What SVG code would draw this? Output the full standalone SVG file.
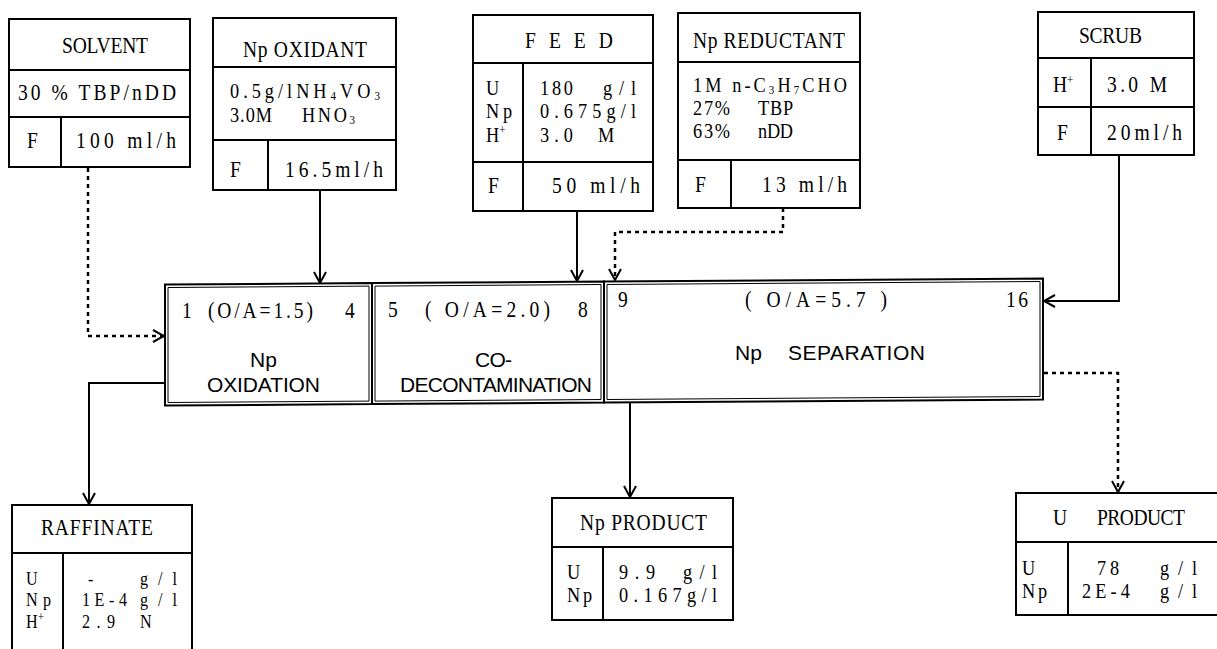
<svg xmlns="http://www.w3.org/2000/svg" width="1217" height="649" viewBox="0 0 1217 649">
<style>
.b{fill:none;stroke:#000;stroke-width:2}
.bi{fill:none;stroke:#000;stroke-width:1}
.t{font-family:"Liberation Serif",serif;font-size:23px;fill:#000}
.r{font-family:"Liberation Serif",serif;font-size:21.5px;fill:#000}
.q{font-family:"Liberation Serif",serif;font-size:19px;fill:#000}
.s{font-family:"Liberation Sans",sans-serif;font-size:21px;fill:#000}
.c{fill:none;stroke:#000;stroke-width:2}
.d{stroke-dasharray:4 4;stroke-width:2.5}
.sub{font-size:13px}
.sup{font-size:13px}
</style>
<defs>
<marker id="ah" viewBox="0 0 13 14" refX="12" refY="7" markerWidth="13" markerHeight="14" markerUnits="userSpaceOnUse" orient="auto">
<path d="M1,1 L12,7 L1,13" fill="none" stroke="#000" stroke-width="2" stroke-dasharray="none"/>
</marker>
</defs>
<rect width="1217" height="649" fill="#fff"/>

<g id="solvent">
<rect class="b" x="9" y="19" width="181" height="148"/>
<path class="b" d="M9,70 H190 M9,117 H190 M61,117 V167"/>
<text class="t" transform="scale(.85 1)" x="72.9" y="53" textLength="101.2">SOLVENT</text>
<text class="t" transform="scale(.85 1)" x="21.2" y="100" textLength="185.9">30 % TBP/nDD</text>
<text class="t" transform="scale(.85 1)" x="31.8" y="148">F</text>
<text class="t" transform="scale(.85 1)" x="89.4" y="148" textLength="117.6">100 ml/h</text>
</g>

<g id="np-oxidant">
<rect class="b" x="213" y="18" width="183" height="172"/>
<path class="b" d="M213,67 H396 M213,140 H396 M268,140 V190"/>
<text class="t" transform="scale(.85 1)" x="285.9" y="57" textLength="145.9">Np OXIDANT</text>
<text class="r" transform="scale(.85 1)" x="270.6" y="98" textLength="176.5">0.5g/lNH<tspan class="sub" dy="2">4</tspan><tspan dy="-2">VO</tspan><tspan class="sub" dy="2">3</tspan></text>
<text class="r" transform="scale(.85 1)" x="270.6" y="122" textLength="49.4">3.0M</text>
<text class="r" transform="scale(.85 1)" x="355.3" y="122" textLength="62.4">HNO<tspan class="sub" dy="2">3</tspan></text>
<text class="t" transform="scale(.85 1)" x="270.6" y="177">F</text>
<text class="t" transform="scale(.85 1)" x="335.3" y="177" textLength="115.3">16.5ml/h</text>
</g>

<g id="feed">
<rect class="b" x="473" y="15" width="180" height="196"/>
<path class="b" d="M473,63 H653 M473,162 H653 M523,63 V211"/>
<text class="t" transform="scale(.85 1)" x="617.6" y="48" textLength="103.5">F E E D</text>
<text class="r" transform="scale(.85 1)" x="571.8" y="95">U</text>
<text class="r" transform="scale(.85 1)" x="571.8" y="118" textLength="30.6">Np</text>
<text class="r" transform="scale(.85 1)" x="571.8" y="142">H<tspan class="sup" dy="-8">+</tspan></text>
<text class="r" transform="scale(.85 1)" x="635.3" y="95" textLength="38.8">180</text>
<text class="r" transform="scale(.85 1)" x="709.4" y="95" textLength="38.8">g/l</text>
<text class="r" transform="scale(.85 1)" x="635.3" y="118" textLength="112.9">0.675g/l</text>
<text class="r" transform="scale(.85 1)" x="635.3" y="142" textLength="38.8">3.0</text>
<text class="r" transform="scale(.85 1)" x="703.5" y="142">M</text>
<text class="t" transform="scale(.85 1)" x="574.1" y="193">F</text>
<text class="t" transform="scale(.85 1)" x="649.4" y="193" textLength="103.5">50 ml/h</text>
</g>

<g id="np-reductant">
<rect class="b" x="678" y="13" width="182" height="195"/>
<path class="b" d="M678,62 H860 M678,160 H860 M731,160 V208"/>
<text class="t" transform="scale(.85 1)" x="815.3" y="48" textLength="178.8">Np REDUCTANT</text>
<text class="r" transform="scale(.85 1)" x="815.3" y="92" textLength="181.2">1M n-C<tspan class="sub" dy="2">3</tspan><tspan dy="-2">H</tspan><tspan class="sub" dy="2">7</tspan><tspan dy="-2">CHO</tspan></text>
<text class="r" transform="scale(.85 1)" x="815.3" y="115" textLength="43.5">27%</text>
<text class="r" transform="scale(.85 1)" x="891.8" y="115" textLength="41.2">TBP</text>
<text class="r" transform="scale(.85 1)" x="815.3" y="138" textLength="43.5">63%</text>
<text class="r" transform="scale(.85 1)" x="891.8" y="138" textLength="41.2">nDD</text>
<text class="t" transform="scale(.85 1)" x="817.6" y="192">F</text>
<text class="t" transform="scale(.85 1)" x="896.5" y="192" textLength="100">13 ml/h</text>
</g>

<g id="scrub">
<rect class="b" x="1038" y="12" width="156" height="143"/>
<path class="b" d="M1038,58 H1194 M1038,107 H1194 M1091,58 V155"/>
<text class="t" transform="scale(.85 1)" x="1269.4" y="43" textLength="74.1">SCRUB</text>
<text class="t" transform="scale(.85 1)" x="1238.8" y="92">H<tspan class="sup" dy="-8">+</tspan></text>
<text class="t" transform="scale(.85 1)" x="1302.4" y="92" textLength="70.6">3.0 M</text>
<text class="t" transform="scale(.85 1)" x="1243.5" y="140">F</text>
<text class="t" transform="scale(.85 1)" x="1302.4" y="140" textLength="88.2">20ml/h</text>
</g>

<g id="np-oxidation">
<polygon class="b" points="165,284.5 372,283.1 372,404.1 165,405.5"/>
<polygon class="bi" points="168,287.5 369,286.1 369,401.1 168,402.5"/>
<text class="t" transform="scale(.85 1)" x="214.1" y="318">1</text>
<text class="t" transform="scale(.85 1)" x="244.7" y="318" textLength="123.5">(O/A=1.5)</text>
<text class="t" transform="scale(.85 1)" x="405.9" y="318">4</text>
<text class="s" x="250" y="367">Np</text>
<text class="s" x="207" y="392" textLength="113">OXIDATION</text>
</g>

<g id="co-decontamination">
<polygon class="b" points="372,283.1 604,281.5 604,402.5 372,404.1"/>
<polygon class="bi" points="375,286.1 601,284.5 601,399.5 375,401.1"/>
<text class="t" transform="scale(.85 1)" x="456.5" y="317">5</text>
<text class="t" transform="scale(.85 1)" x="500" y="317" textLength="147.1">( O/A=2.0)</text>
<text class="t" transform="scale(.85 1)" x="680" y="317">8</text>
<text class="s" x="475" y="367" textLength="37">CO-</text>
<text class="s" x="400" y="392" textLength="192">DECONTAMINATION</text>
</g>

<g id="np-separation">
<polygon class="b" points="604,281.5 1043,278.5 1043,399.5 604,402.5"/>
<polygon class="bi" points="607,284.5 1040,281.5 1040,396.5 607,399.5"/>
<text class="t" transform="scale(.85 1)" x="727.1" y="307">9</text>
<text class="t" transform="scale(.85 1)" x="876.5" y="307" textLength="167.1">( O/A=5.7 )</text>
<text class="t" transform="scale(.85 1)" x="1183.5" y="307" textLength="25.9">16</text>
<text class="s" x="735" y="360">Np</text>
<text class="s" x="788" y="360" textLength="137">SEPARATION</text>
</g>

<g id="raffinate">
<rect class="b" x="12" y="505" width="180" height="155"/>
<path class="b" d="M12,553 H192 M63,553 V660"/>
<text class="t" transform="scale(.85 1)" x="48.2" y="535" textLength="131.8">RAFFINATE</text>
<text class="q" transform="scale(.85 1)" x="30.6" y="585">U</text>
<text class="q" transform="scale(.85 1)" x="30.6" y="606" textLength="29.4">Np</text>
<text class="q" transform="scale(.85 1)" x="30.6" y="628">H<tspan class="sup" dy="-7">+</tspan></text>
<text class="q" transform="scale(.85 1)" x="103.5" y="585">-</text>
<text class="q" transform="scale(.85 1)" x="164.7" y="585" textLength="43.5">g/l</text>
<text class="q" transform="scale(.85 1)" x="96.5" y="606" textLength="52.9">1E-4</text>
<text class="q" transform="scale(.85 1)" x="164.7" y="606" textLength="43.5">g/l</text>
<text class="q" transform="scale(.85 1)" x="96.5" y="628" textLength="38.8">2.9</text>
<text class="q" transform="scale(.85 1)" x="164.7" y="628">N</text>
</g>

<g id="np-product">
<rect class="b" x="552" y="498" width="181" height="122"/>
<path class="b" d="M552,547 H733 M603,547 V620"/>
<text class="t" transform="scale(.85 1)" x="682.4" y="530" textLength="149.4">Np PRODUCT</text>
<text class="r" transform="scale(.85 1)" x="667.1" y="579">U</text>
<text class="r" transform="scale(.85 1)" x="667.1" y="602" textLength="29.4">Np</text>
<text class="r" transform="scale(.85 1)" x="728.2" y="579" textLength="42.4">9.9</text>
<text class="r" transform="scale(.85 1)" x="803.5" y="579" textLength="40">g/l</text>
<text class="r" transform="scale(.85 1)" x="728.2" y="602" textLength="115.3">0.167g/l</text>
</g>

<g id="u-product">
<rect class="b" x="1016" y="493" width="210" height="122"/>
<path class="b" d="M1016,542 H1217 M1068,542 V615"/>
<text class="t" transform="scale(.85 1)" x="1238.8" y="525">U</text>
<text class="t" transform="scale(.85 1)" x="1290.6" y="525" textLength="103.5">PRODUCT</text>
<text class="r" transform="scale(.85 1)" x="1202.4" y="575">U</text>
<text class="r" transform="scale(.85 1)" x="1202.4" y="598" textLength="29.4">Np</text>
<text class="r" transform="scale(.85 1)" x="1290.6" y="575" textLength="25.9">78</text>
<text class="r" transform="scale(.85 1)" x="1364.7" y="575" textLength="43.5">g/l</text>
<text class="r" transform="scale(.85 1)" x="1272.9" y="598" textLength="56.5">2E-4</text>
<text class="r" transform="scale(.85 1)" x="1364.7" y="598" textLength="43.5">g/l</text>
</g>

<g id="connectors">
<path class="c d" d="M88,168 V336 H164" marker-end="url(#ah)"/>
<path class="c" d="M320,190 V283" marker-end="url(#ah)"/>
<path class="c" d="M577,211 V281" marker-end="url(#ah)"/>
<path class="c d" d="M783,208 V232 H615 V280" marker-end="url(#ah)"/>
<path class="c" d="M1119,155 V301 H1044" marker-end="url(#ah)"/>
<path class="c" d="M165,383 H89 V504" marker-end="url(#ah)"/>
<path class="c" d="M630,402 V497" marker-end="url(#ah)"/>
<path class="c d" d="M1044,373 H1118 V492" marker-end="url(#ah)"/>
</g>
</svg>
